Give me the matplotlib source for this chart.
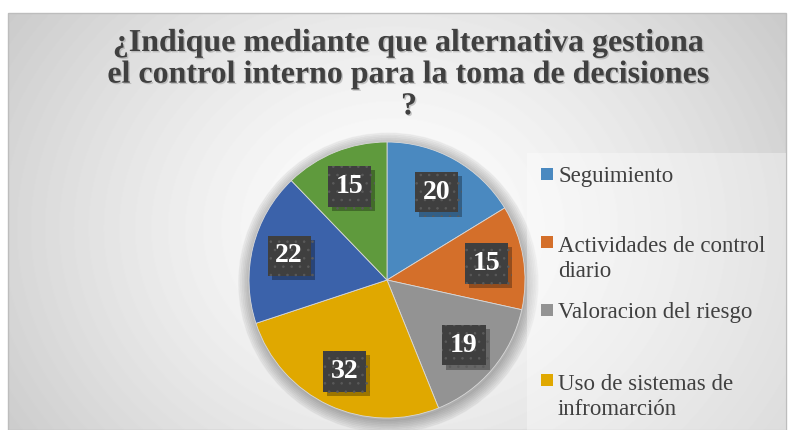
import numpy as np
import matplotlib.pyplot as plt
import matplotlib.patheffects as pe
from matplotlib.patches import Rectangle, Circle

values = [20, 15, 19, 32, 22, 15]
colors = ['#4a89c0', '#d46f2a', '#939393', '#e0a800', '#3b62aa', '#5f9a3d']
legend_labels = ['Seguimiento', 'Actividades de control\ndiario',
                 'Valoracion del riesgo', 'Uso de sistemas de\ninfromarción']
title = ('¿Indique mediante que alternativa gestiona\n'
         'el control interno para la toma de decisiones\n?')

plt.rcParams['hatch.linewidth'] = 0.6

W, H = 791, 430
fig = plt.figure(figsize=(W / 100, H / 100), dpi=100)

# gray radial background of the chart area
bg = fig.add_axes([8 / W, 0, 778 / W, 417 / H])
yy, xx = np.mgrid[0:417, 0:778]
d = np.hypot(xx - 385, (yy - 215) * 1.2) / 520
shade = 1 - 0.24 * np.clip(d, 0, 1) ** 1.4
bg.imshow(shade, cmap='gray', vmin=0, vmax=1, aspect='auto',
          extent=(0, 1, 0, 1))
bg.set_xlim(0, 1)
bg.set_ylim(0, 1)
bg.axis('off')
fig.patches.append(Rectangle((8 / W, 0), 778 / W, 417 / H, transform=fig.transFigure,
                             fill=False, edgecolor='#bdbdbd', linewidth=1))

# legend background
fig.patches.append(Rectangle((527 / W, 0), 259 / W, (430 - 153) / H,
                             transform=fig.transFigure, facecolor='white',
                             alpha=0.35, edgecolor='none'))

# pie
cx, cy, r = 387, 280, 138
ax = fig.add_axes([(cx - r) / W, (H - cy - r) / H, 2 * r / W, 2 * r / H])
for k in range(8):
    ax.add_patch(Circle((0.01, -0.02), 1.0 + 0.012 * k, color='black',
                        alpha=0.035, zorder=0, clip_on=False))
wedges, texts, autotexts = ax.pie(
    values, colors=colors, startangle=90, counterclock=False,
    autopct=lambda p: f'{p * sum(values) / 100:.0f}', pctdistance=0.73,
    wedgeprops=dict(edgecolor='#d9d9d9', linewidth=0.6),
    textprops=dict(color='white', fontsize=20, fontweight='bold',
                   family='Liberation Serif'))
ax.set_xlim(-1, 1)
ax.set_ylim(-1, 1)
ax.set_aspect('equal')

for t in autotexts:
    t.set_zorder(4)
    t.set_bbox(dict(boxstyle='square,pad=0.28', facecolor='#3f3f3f',
                    edgecolor='#5a5a5a', linewidth=0, hatch='..'))
    t.get_bbox_patch().set_path_effects(
        [pe.withSimplePatchShadow(offset=(3, -3), shadow_rgbFace='black', alpha=0.3)])

# title
fig.text(409 / W, 1 - 29 / H, title, ha='center', va='top', fontsize=23,
         fontweight='bold', family='Liberation Serif', color='#404040',
         linespacing=1.12,
         path_effects=[pe.withSimplePatchShadow(offset=(1, -1),
                                                shadow_rgbFace='#999999', alpha=0.5)])

# legend
baselines = [182, 250, 318, 388]
line_gap = 27
for lab, col, b in zip(legend_labels, colors, baselines):
    n = lab.count('\n')
    fig.patches.append(Rectangle((541 / W, (H - b + 2) / H), 12 / W, 12 / H,
                                 transform=fig.transFigure, facecolor=col,
                                 edgecolor='none'))
    fig.text(558 / W, (H - b - n * line_gap) / H, lab, ha='left', va='baseline',
             fontsize=16.5, family='Liberation Serif', color='#404040',
             linespacing=1.24)

fig.savefig('out.png', dpi=100, facecolor='white')
